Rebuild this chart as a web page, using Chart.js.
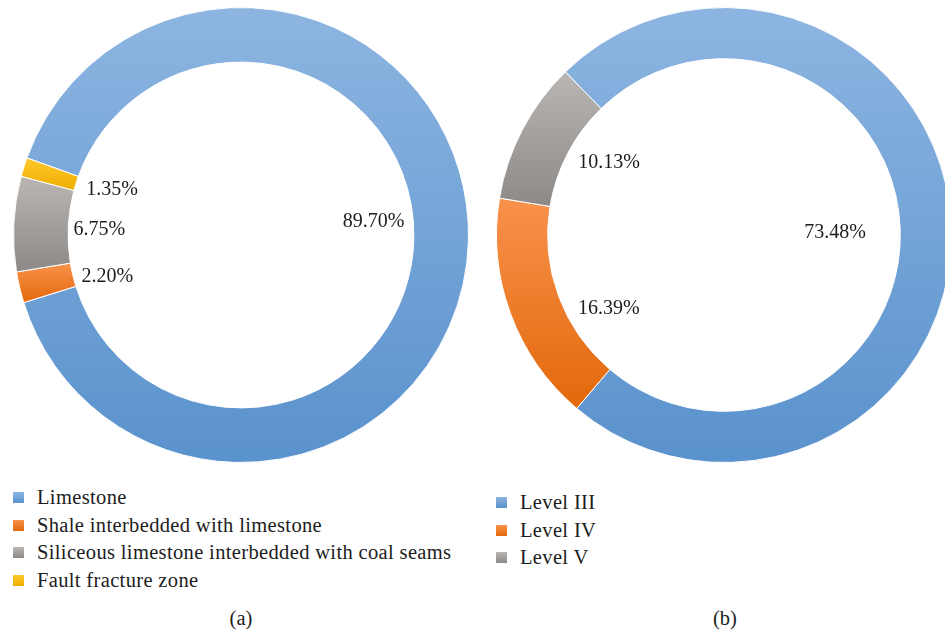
<!DOCTYPE html>
<html>
<head>
<meta charset="utf-8">
<script src="https://cdn.jsdelivr.net/npm/chart.js@4.4.1/dist/chart.umd.min.js"></script>
<style>
  html, body { margin: 0; padding: 0; width: 945px; height: 635px; overflow: hidden; background: #fff;
    font-family: "Liberation Serif", "DejaVu Serif", serif; color: #1c1c1c; }
  .chart { position: absolute; top: 7px; width: 456px; height: 456px; }
  #wrapA { left: 13px; }
  #wrapB { left: 496px; }
  .legend { position: absolute; font-size: 20.5px; letter-spacing: 0.35px; line-height: 27.5px; }
  .legend .item { display: flex; align-items: center; white-space: nowrap; height: 27.5px; }
  .legend .sw { width: 11px; height: 11px; margin-right: 13px; flex: none; }
  #legendA { left: 13px; top: 484px; }
  #legendB { left: 496px; top: 489px; }
  .caption { position: absolute; top: 607px; width: 80px; text-align: center; font-size: 20.5px; }
  #capA { left: 201px; }
  #capB { left: 685px; }
</style>
</head>
<body>
<div class="chart" id="wrapA"><canvas id="chartA" width="456" height="456"></canvas></div>
<div class="chart" id="wrapB"><canvas id="chartB" width="456" height="456"></canvas></div>
<div class="legend" id="legendA"></div>
<div class="legend" id="legendB"></div>
<div class="caption" id="capA">(a)</div>
<div class="caption" id="capB">(b)</div>
<script>
// (a) lithology shares, %
const rockCategories = [
  'Limestone',
  'Shale interbedded with limestone',
  'Siliceous limestone interbedded with coal seams',
  'Fault fracture zone'
];
const rockShares = [89.70, 2.20, 6.75, 1.35];

// (b) grade shares, %
const levelCategories = ['Level III', 'Level IV', 'Level V'];
const levelShares = [73.48, 16.39, 10.13];

// vertical shading per slice: [top, bottom]
const BLUE = ['#8DB5E1', '#5A92CD'];
const ORANGE = ['#F8924C', '#E3680A'];
const GRAY = ['#B9B6B4', '#8D8987'];
const GOLD = ['#FFC92C', '#EDAE00'];

// Fill each arc with a top-to-bottom gradient spanning its own height
const sliceGradient = {
  id: 'sliceGradient',
  beforeDatasetsDraw(chart, args, opts) {
    const ctx = chart.ctx;
    chart.getDatasetMeta(0).data.forEach((arc, i) => {
      const { x, y, startAngle, endAngle, innerRadius, outerRadius } = arc;
      let top = Infinity, bottom = -Infinity;
      const n = 90;
      for (let k = 0; k <= n; k++) {
        const a = startAngle + (endAngle - startAngle) * k / n;
        for (const r of [innerRadius, outerRadius]) {
          const py = y + r * Math.sin(a);
          top = Math.min(top, py);
          bottom = Math.max(bottom, py);
        }
      }
      const g = ctx.createLinearGradient(0, top, 0, bottom);
      g.addColorStop(0, opts.stops[i][0]);
      g.addColorStop(1, opts.stops[i][1]);
      arc.options = Object.assign({}, arc.options, { backgroundColor: g });
    });
  }
};

// Percentage labels set inside the hole, near their slice
const percentLabels = {
  id: 'percentLabels',
  afterDatasetsDraw(chart, args, opts) {
    const ctx = chart.ctx;
    const values = chart.data.datasets[0].data;
    ctx.save();
    ctx.font = opts.font;
    ctx.fillStyle = opts.color;
    ctx.textAlign = 'center';
    ctx.textBaseline = 'middle';
    chart.getDatasetMeta(0).data.forEach((arc, i) => {
      const p = opts.placement[i];
      const mid = (arc.startAngle + arc.endAngle) / 2 + p.shift * Math.PI / 180;
      const r = arc.innerRadius * p.radius;
      ctx.fillText(values[i].toFixed(2) + '%', arc.x + r * Math.cos(mid), arc.y + r * Math.sin(mid));
    });
    ctx.restore();
  }
};

function ring(canvasId, labels, values, stops, rotation, cutout, placement) {
  return new Chart(document.getElementById(canvasId), {
    type: 'doughnut',
    data: {
      labels: labels,
      datasets: [{
        data: values,
        backgroundColor: stops.map(s => s[1]),
        borderColor: '#ffffff',
        borderWidth: 1
      }]
    },
    options: {
      responsive: false,
      animation: false,
      events: [],
      rotation: rotation,
      cutout: cutout,
      layout: { padding: 0 },
      plugins: {
        legend: { display: false },
        tooltip: { enabled: false },
        sliceGradient: { stops: stops },
        percentLabels: {
          font: '20px "Liberation Serif", serif',
          color: '#1c1c1c',
          placement: placement
        }
      }
    },
    plugins: [sliceGradient, percentLabels]
  });
}

function legend(containerId, labels, stops) {
  const box = document.getElementById(containerId);
  labels.forEach((text, i) => {
    const item = document.createElement('div');
    item.className = 'item';
    const sw = document.createElement('span');
    sw.className = 'sw';
    sw.style.background = 'linear-gradient(' + stops[i][0] + ',' + stops[i][1] + ')';
    const t = document.createElement('span');
    t.textContent = text;
    item.appendChild(sw);
    item.appendChild(t);
    box.appendChild(item);
  });
}

const rockStops = [BLUE, ORANGE, GRAY, GOLD];
const levelStops = [BLUE, ORANGE, GRAY];

ring('chartA', rockCategories, rockShares, rockStops, -70.2, '76%', [
  { radius: 0.77, shift: -6.9 },
  { radius: 0.81, shift: -4.1 },
  { radius: 0.82, shift: -0.8 },
  { radius: 0.79, shift: 1.8 }
]);
ring('chartB', levelCategories, levelShares, levelStops, -44.2, '77.5%', [
  { radius: 0.63, shift: 0.9 },
  { radius: 0.776, shift: -12.5 },
  { radius: 0.77, shift: 4.7 }
]);

legend('legendA', rockCategories, rockStops);
legend('legendB', levelCategories, levelStops);
</script>
</body>
</html>
